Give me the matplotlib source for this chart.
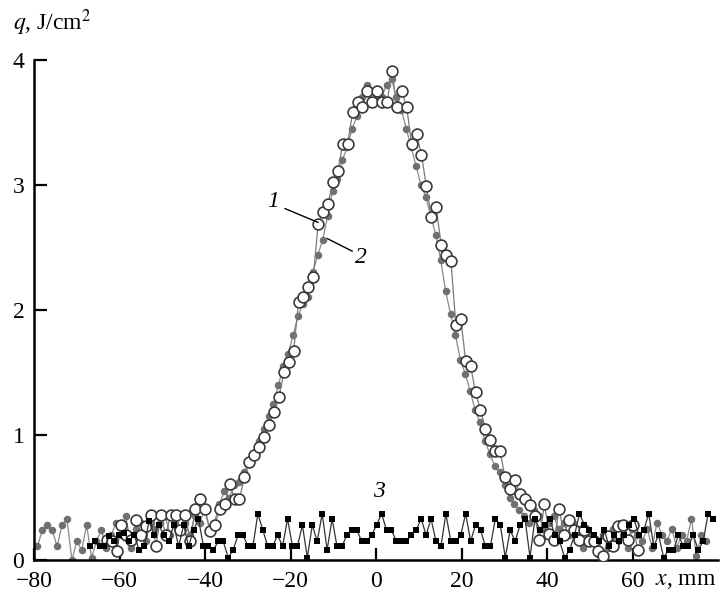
import numpy as np
import matplotlib
matplotlib.use("Agg")
import matplotlib.pyplot as plt

plt.rcParams['font.family'] = ['Liberation Serif', 'DejaVu Serif']
plt.rcParams['mathtext.fontset'] = 'stix'

# curve 1: open circles, sampled from -63 mm with ~1.15 mm step
x1_start, x1_step = -63.0, 1.15
q1 = [0.16, 0.15, 0.07, 0.28, 0.20, 0.16, 0.32, 0.20, 0.27, 0.36,
      0.11, 0.36, 0.20, 0.36, 0.36, 0.24, 0.36, 0.15, 0.41, 0.49,
      0.41, 0.23, 0.28, 0.41, 0.45, 0.61, 0.49, 0.49, 0.66, 0.78,
      0.84, 0.90, 0.98, 1.08, 1.18, 1.30, 1.50, 1.58, 1.67, 2.06,
      2.10, 2.18, 2.26, 2.69, 2.78, 2.85, 3.02, 3.11, 3.33, 3.33,
      3.58, 3.66, 3.62, 3.75, 3.66, 3.75, 3.66, 3.66, 3.91, 3.62,
      3.75, 3.62, 3.33, 3.41, 3.24, 2.99, 2.74, 2.82, 2.52, 2.44,
      2.39, 1.88, 1.93, 1.59, 1.55, 1.34, 1.20, 1.05, 0.96, 0.87,
      0.87, 0.66, 0.57, 0.64, 0.53, 0.49, 0.44, 0.35, 0.16, 0.45,
      0.21, 0.16, 0.41, 0.20, 0.32, 0.24, 0.16, 0.24, 0.15, 0.15,
      0.07, 0.03, 0.19, 0.11, 0.27, 0.28, 0.16, 0.28, 0.08]

# curve 2: small grey dots, from -79.2 mm
x2_start, x2_step = -79.2, 1.15
q2 = [0.11, 0.24, 0.28, 0.24, 0.11, 0.28, 0.33, 0.00, 0.15, 0.08,
      0.28, 0.02, 0.15, 0.24, 0.10, 0.20, 0.30, 0.20, 0.35, 0.10,
      0.25, 0.30, 0.15, 0.30, 0.25, 0.30, 0.35, 0.20, 0.30, 0.25,
      0.30, 0.20, 0.35, 0.30, 0.40, 0.25, 0.30, 0.45, 0.55, 0.50,
      0.60, 0.62, 0.70, 0.80, 0.85, 0.95, 1.05, 1.15, 1.25, 1.40,
      1.55, 1.65, 1.80, 1.95, 2.05, 2.10, 2.30, 2.44, 2.56, 2.75,
      2.95, 3.05, 3.20, 3.30, 3.45, 3.55, 3.70, 3.80, 3.75, 3.72,
      3.70, 3.80, 3.85, 3.70, 3.60, 3.45, 3.30, 3.15, 3.00, 2.90,
      2.75, 2.60, 2.40, 2.15, 1.97, 1.80, 1.60, 1.49, 1.35, 1.20,
      1.10, 0.95, 0.85, 0.75, 0.70, 0.60, 0.50, 0.45, 0.40, 0.35,
      0.30, 0.40, 0.35, 0.25, 0.30, 0.35, 0.25, 0.30, 0.20, 0.30,
      0.25, 0.10, 0.20, 0.15, 0.05, 0.20, 0.10, 0.25, 0.15, 0.20,
      0.10, 0.25, 0.20, 0.15, 0.25, 0.10, 0.30, 0.20, 0.15, 0.25,
      0.10, 0.20, 0.15, 0.33, 0.03, 0.20, 0.15]

# curve 3: black squares, from -67 mm to ~79 mm
x3_start, x3_end = -67.0, 78.8
q3 = [0.11, 0.15, 0.11, 0.11, 0.19, 0.15, 0.20, 0.22, 0.15, 0.20,
      0.08, 0.11, 0.31, 0.20, 0.28, 0.20, 0.15, 0.28,
      0.11, 0.28, 0.11, 0.24, 0.33, 0.11, 0.11, 0.08, 0.15, 0.15,
      0.02, 0.08, 0.20, 0.20, 0.11, 0.11, 0.37, 0.24, 0.11, 0.11,
      0.20, 0.11, 0.33, 0.11, 0.11, 0.28,
      0.02, 0.28, 0.15, 0.37, 0.08, 0.33, 0.11, 0.11, 0.20, 0.24,
      0.24, 0.15, 0.15, 0.20, 0.28, 0.37, 0.24, 0.24, 0.15, 0.15,
      0.15, 0.20, 0.24, 0.33, 0.20, 0.33, 0.15, 0.11, 0.37,
      0.15, 0.15, 0.20, 0.37, 0.15, 0.28, 0.24, 0.11, 0.11, 0.33,
      0.28, 0.02, 0.24, 0.15, 0.28, 0.33, 0.02, 0.33, 0.24, 0.28,
      0.33, 0.20, 0.15, 0.02, 0.08, 0.20, 0.37,
      0.28, 0.24, 0.20, 0.15, 0.24, 0.11, 0.20, 0.15, 0.20, 0.28,
      0.33, 0.20, 0.24, 0.37, 0.11, 0.20, 0.02, 0.08, 0.08, 0.20,
      0.11, 0.11, 0.20, 0.08, 0.15, 0.37, 0.33]

x1 = x1_start + x1_step * np.arange(len(q1))
x2 = x2_start + x2_step * np.arange(len(q2))
x3 = np.linspace(x3_start, x3_end, len(q3))

fig = plt.figure(figsize=(7.24, 5.92), dpi=100)
ax = fig.add_axes([0.047, 0.054, 0.945, 0.845])

ax.plot(x2, q2, '-', color='#8a8a8a', lw=0.9, zorder=2)
ax.plot(x2, q2, 'o', color='#707070', ms=5.4, mew=0, zorder=2.1)
ax.plot(x1, q1, '-', color='#7a7a7a', lw=0.9, zorder=3)
ax.plot(x1, q1, 'o', mfc='white', mec='#3a3a3a', ms=7.8, mew=1.2, zorder=3.1)
ax.plot(x3, q3, '-', color='#333333', lw=0.9, zorder=4)
ax.plot(x3, q3, 's', color='black', ms=5.0, mew=0, zorder=4.1)

ax.set_xlim(-80, 80)
ax.set_ylim(0, 4)
ax.set_xticks([-80, -60, -40, -20, 0, 20, 40, 60])
ax.set_xticklabels(['\u221280', '\u221260', '\u221240', '\u221220', '0', '20', '40', '60'])
ax.set_yticks([0, 1, 2, 3, 4])
for s in ['top', 'right']:
    ax.spines[s].set_visible(False)
for s in ['left', 'bottom']:
    ax.spines[s].set_linewidth(1.8)
ax.tick_params(direction='in', length=9, width=1.6, labelsize=17)
ax.tick_params(axis='x', pad=8)
ax.tick_params(axis='y', pad=7)

# curve labels
ax.text(-24.1, 2.87, '1', fontsize=17, style='italic', ha='center', va='center')
ax.plot([-21.3, -13.6], [2.81, 2.70], color='black', lw=1.0, zorder=5)
ax.text(-3.6, 2.42, '2', fontsize=17, style='italic', ha='center', va='center')
ax.plot([-11.4, -5.6], [2.57, 2.47], color='black', lw=1.0, zorder=5)
ax.text(0.7, 0.55, '3', fontsize=17, style='italic', ha='center', va='center')

fig.text(0.018, 0.962, '$q$, J/cm$^2$', fontsize=17, ha='left', va='center')
fig.text(0.905, 0.020, '$x$, mm', fontsize=17, ha='left', va='center')

fig.savefig('out.png', dpi=100)
